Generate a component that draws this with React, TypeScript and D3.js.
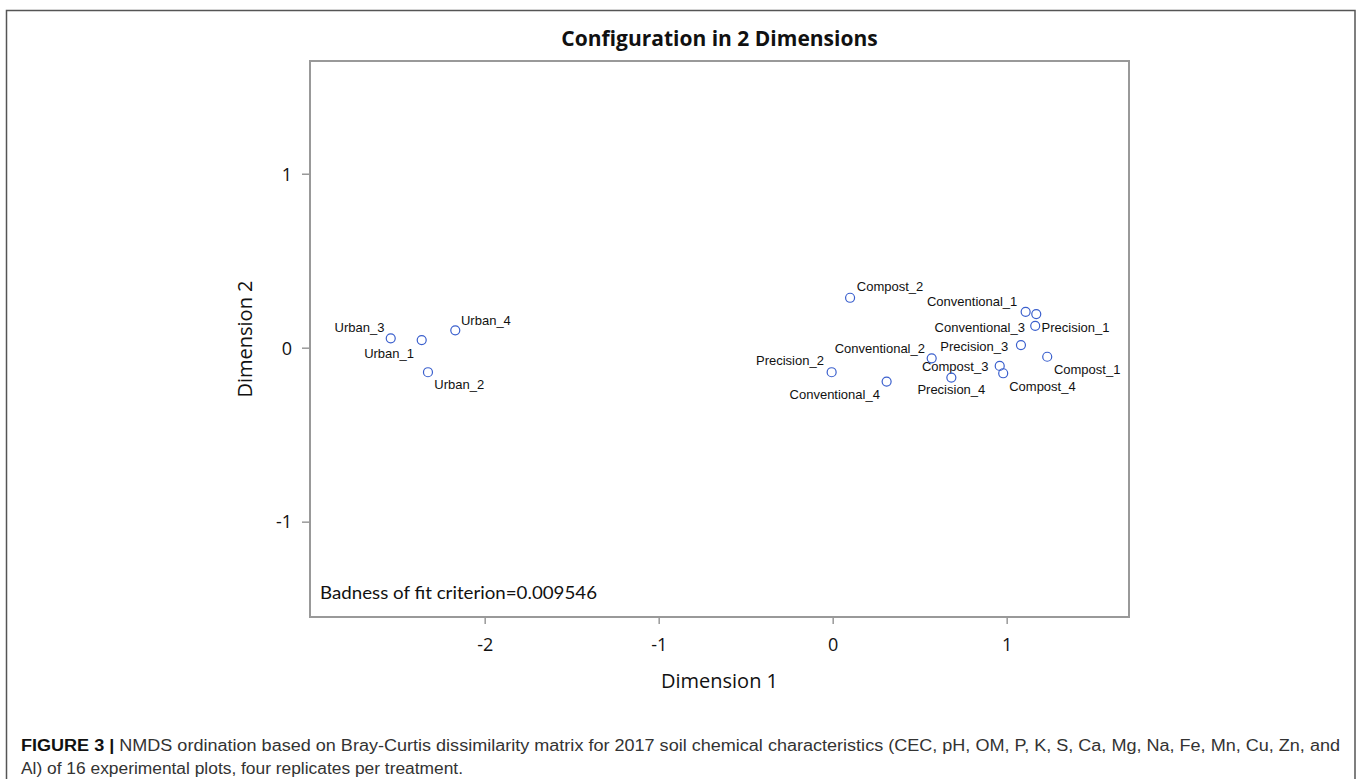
import { useRef, useEffect } from "react";
import * as d3 from "d3";

const W = 1360;
const H = 779;
// plot frame in page pixels
const FRAME = { left: 310, right: 1129, top: 61, bottom: 617 };

const names = [
  "Urban_1", "Urban_2", "Urban_3", "Urban_4",
  "Compost_1", "Compost_2", "Compost_3", "Compost_4",
  "Conventional_1", "Conventional_2", "Conventional_3", "Conventional_4",
  "Precision_1", "Precision_2", "Precision_3", "Precision_4",
];
const dim1 = [
  -2.362, -2.326, -2.54, -2.169,
  1.233, 0.1, 0.96, 0.98,
  1.109, 0.569, 1.17, 0.31,
  1.164, -0.006, 1.082, 0.682,
];
const dim2 = [
  0.044, -0.141, 0.054, 0.1,
  -0.052, 0.287, -0.105, -0.147,
  0.206, -0.061, 0.193, -0.195,
  0.126, -0.141, 0.015, -0.172,
];
const xTicks = [-2, -1, 0, 1];
const yTicks = [-1, 0, 1];
const xDomain = [-3.004, 1.703];
const yDomain = [-1.548, 1.648];

// where each label sits relative to its marker: anchor, dx, dy (to text middle)
const LABEL_POS: Record<string, [string, number, number]> = {
  Urban_1: ["end", -7.7, 13.3],
  Urban_2: ["start", 6.3, 12.7],
  Urban_3: ["end", -6.3, -11],
  Urban_4: ["start", 5.7, -10.3],
  Compost_1: ["start", 6.7, 12.3],
  Compost_2: ["start", 6.7, -11],
  Compost_3: ["end", -11.3, 0.7],
  Compost_4: ["start", 6, 12.7],
  Conventional_1: ["end", -8.3, -10],
  Conventional_2: ["end", -6.7, -10],
  Conventional_3: ["end", -11.3, 13.3],
  Conventional_4: ["end", -6.7, 13.3],
  Precision_1: ["start", 6.3, 1.7],
  Precision_2: ["end", -7.7, -11.7],
  Precision_3: ["end", -12.7, 1],
  Precision_4: ["middle", 0, 12.3],
};

const App = () => {
  const xAxisRef = useRef<SVGGElement | null>(null);
  const yAxisRef = useRef<SVGGElement | null>(null);

  const xScale = d3.scaleLinear().domain(xDomain).range([FRAME.left, FRAME.right]);
  const yScale = d3.scaleLinear().domain(yDomain).range([FRAME.bottom, FRAME.top]);

  useEffect(() => {
    const gx = d3.select(xAxisRef.current);
    gx.selectAll("*").remove();
    gx.call(d3.axisBottom(xScale).tickValues(xTicks).tickSize(7).tickFormat((d) => String(d)));
    gx.select(".domain").remove();
    gx.selectAll(".tick line").attr("stroke", "#999").attr("stroke-width", 1.5);
    gx.selectAll(".tick text")
      .attr("y", 28)
      .attr("dy", "0.35em")
      .attr("fill", "#111")
      .style("font-family", "'Open Sans', sans-serif")
      .style("font-size", "18px");

    const gy = d3.select(yAxisRef.current);
    gy.selectAll("*").remove();
    gy.call(d3.axisLeft(yScale).tickValues(yTicks).tickSize(8).tickPadding(10).tickFormat((d) => String(d)));
    gy.select(".domain").remove();
    gy.selectAll(".tick line").attr("stroke", "#999").attr("stroke-width", 1.5);
    gy.selectAll(".tick text")
      .attr("dy", "0.35em")
      .attr("fill", "#111")
      .style("font-family", "'Open Sans', sans-serif")
      .style("font-size", "18px");
  }, []);

  const cx = (FRAME.left + FRAME.right) / 2;
  const cy = (FRAME.top + FRAME.bottom) / 2;

  return (
    <svg
      width={W}
      height={H}
      viewBox={`0 0 ${W} ${H}`}
      style={{ position: "absolute", left: 0, top: 0, background: "#fff" }}
    >
      {/* figure border */}
      <rect x={6.5} y={10.5} width={1348.5} height={H + 10} fill="none" stroke="#555" strokeWidth={1.5} />

      <text
        x={cx}
        y={39}
        dy="0.35em"
        textAnchor="middle"
        fontFamily="'Open Sans', sans-serif"
        fontWeight="bold"
        fontSize={21}
        fill="#111"
      >
        Configuration in 2 Dimensions
      </text>

      <rect
        x={FRAME.left}
        y={FRAME.top}
        width={FRAME.right - FRAME.left}
        height={FRAME.bottom - FRAME.top}
        fill="none"
        stroke="#999"
        strokeWidth={2}
      />

      <g ref={xAxisRef} transform={`translate(0,${FRAME.bottom})`} />
      <g ref={yAxisRef} transform={`translate(${FRAME.left},0)`} />

      <text x={cx} y={681} dy="0.35em" textAnchor="middle" fontFamily="'Open Sans', sans-serif" fontSize={20} fill="#111">
        Dimension 1
      </text>
      <text
        transform={`translate(245,${cy}) rotate(-90)`}
        dy="0.35em"
        textAnchor="middle"
        fontFamily="'Open Sans', sans-serif"
        fontSize={20}
        fill="#111"
      >
        Dimension 2
      </text>

      {names.map((n, i) => {
        const [anchor, dx, dy] = LABEL_POS[n];
        const px = xScale(dim1[i]);
        const py = yScale(dim2[i]);
        return (
          <g key={n}>
            <circle cx={px} cy={py} r={4.5} fill="none" stroke="#3a5fcd" strokeWidth={1.2} />
            <text
              x={px + dx}
              y={py + dy}
              dy="0.35em"
              textAnchor={anchor}
              fontFamily="'Liberation Sans', Arial, sans-serif"
              fontSize={13}
              fill="#111"
            >
              {n}
            </text>
          </g>
        );
      })}

      <text
        x={320}
        y={593}
        dy="0.35em"
        fontFamily="Lato, sans-serif"
        fontSize={18}
        fill="#111"
        textLength={277}
        lengthAdjust="spacingAndGlyphs"
      >
        Badness of fit criterion=0.009546
      </text>

      {/* caption */}
      <text
        x={21}
        y={745}
        dy="0.35em"
        fontFamily="'Liberation Sans', Arial, sans-serif"
        fontSize={16}
        fill="#333"
        textLength={1319}
        lengthAdjust="spacingAndGlyphs"
      >
        <tspan fontWeight="bold" fill="#111">FIGURE 3 | </tspan>
        NMDS ordination based on Bray-Curtis dissimilarity matrix for 2017 soil chemical characteristics (CEC, pH, OM, P, K, S, Ca, Mg, Na, Fe, Mn, Cu, Zn, and
      </text>
      <text
        x={21}
        y={768}
        dy="0.35em"
        fontFamily="'Liberation Sans', Arial, sans-serif"
        fontSize={16}
        fill="#333"
        textLength={442}
        lengthAdjust="spacingAndGlyphs"
      >
        Al) of 16 experimental plots, four replicates per treatment.
      </text>
    </svg>
  );
};

export default App;
